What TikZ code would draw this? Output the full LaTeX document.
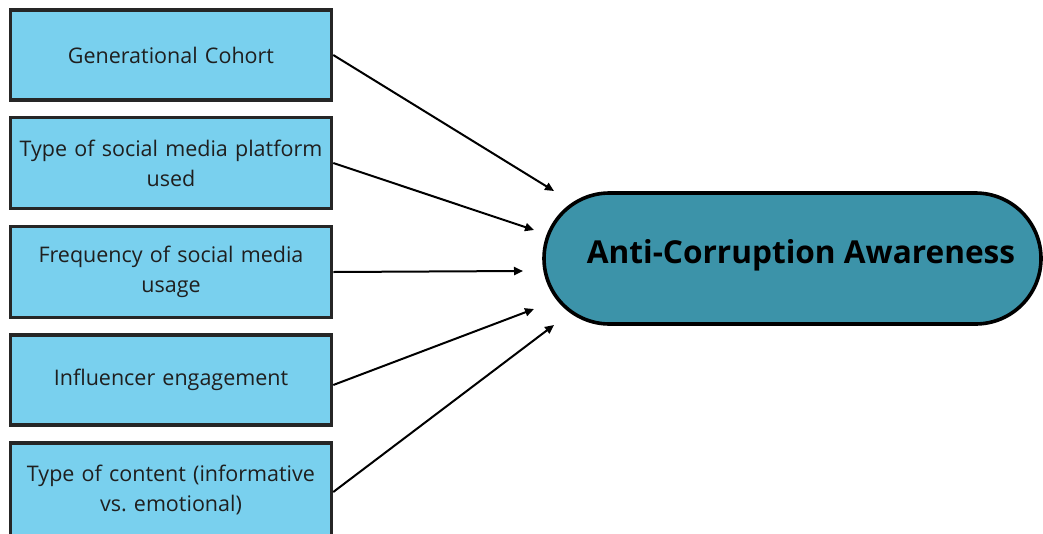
\documentclass[tikz,border=0pt]{standalone}
\usepackage{fontspec}
\setmainfont{Open Sans}
\usetikzlibrary{arrows.meta,shapes.misc}
\definecolor{boxblue}{HTML}{79D0EE}
\definecolor{tealfill}{HTML}{3C93A9}
\definecolor{edgegray}{HTML}{262626}
\frenchspacing
\tikzset{
  factor/.style={draw=edgegray, line width=3.5pt, fill=boxblue, minimum width=321, minimum height=90,
    inner sep=0pt, align=center, text width=318, font=\fontsize{21.5}{30}\selectfont, text=black!88},
  link/.style={line width=2pt, -{Triangle[length=9pt,width=8pt]}},
  outcome/.style={draw=black, line width=3.6pt, fill=tealfill, rounded rectangle, minimum width=497, minimum height=131, inner sep=0pt}
}
\begin{document}
\begin{tikzpicture}[x=1pt,y=-1pt]
\useasboundingbox (0,0) rectangle (1043,533);
\clip (0,0) rectangle (1043,533);
\fill[white] (0,0) rectangle (1043,533);
\node[factor] (b1) at (171,55) {Generational Cohort};
\node[factor, minimum height=91] (b2) at (171,163) {Type of social media platform\\used};
\node[factor, minimum height=91] (b3) at (171,272) {Frequency of social media\\usage};
\node[factor] (b4) at (171,380) {Influencer engagement};
\node[factor, minimum height=94] (b5) at (171,490) {Type of content (informative\\vs. emotional)};
\node[outcome] (oc) at (792.5,258.5) {};
\node[font=\fontsize{31.6}{36}\selectfont\bfseries] (title) at (801,255) {Anti-Corruption Awareness};
\coordinate (e1) at (554,191);
\coordinate (e2) at (534,230);
\coordinate (e3) at (523,271);
\coordinate (e4) at (534,309);
\coordinate (e5) at (554,325);
\draw[link] (b1.east) -- (e1);
\draw[link] (b2.east) -- (e2);
\draw[link] (b3.east) -- (e3);
\draw[link] ([yshift=-5]b4.east) -- (e4);
\draw[link] ([yshift=-2]b5.east) -- (e5);
\end{tikzpicture}
\end{document}
